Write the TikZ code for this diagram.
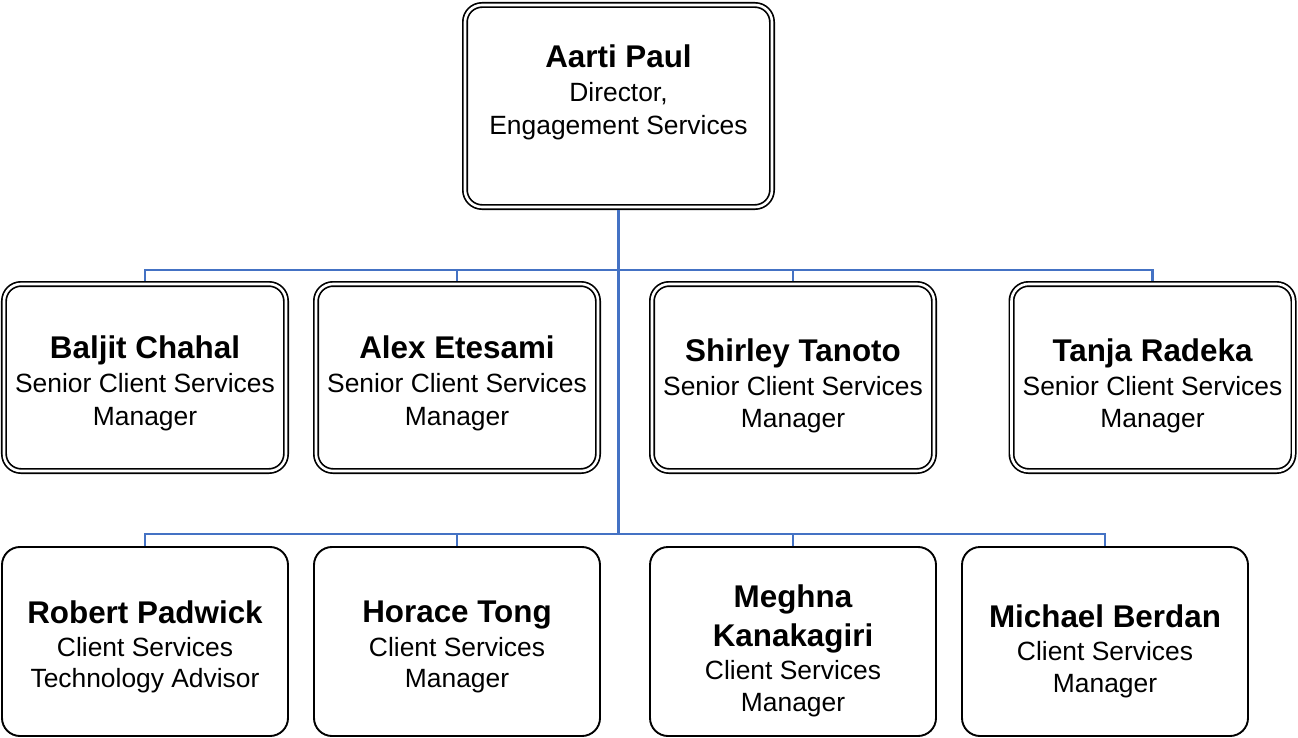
\documentclass[tikz,border=0pt]{standalone}
\usepackage{fontspec}
\setmainfont{Liberation Sans}
\definecolor{lineblue}{HTML}{4472C4}
\begin{document}
\begin{tikzpicture}[x=1bp,y=-1bp,
  dbox/.style={draw=black, line width=1.7bp, double=white, double distance=2.6bp,
    rounded corners=17bp, minimum width=282bp, minimum height=187bp,
    inner sep=0pt, outer sep=3bp, fill=white},
  sbox/.style={draw=black, line width=1.9bp, rounded corners=18bp,
    minimum width=286bp, minimum height=189bp, inner sep=0pt, outer sep=0.95bp, fill=white},
  nm/.style={anchor=base, inner sep=0pt, font=\fontsize{31.5}{36}\selectfont\bfseries},
  tl/.style={anchor=base, inner sep=0pt, font=\fontsize{26.5}{32}\selectfont},
  conn/.style={draw=lineblue, line width=2.2bp}]
\useasboundingbox (0,0) rectangle (1298,738);

% boxes
\node[dbox, minimum width=307bp, minimum height=202bp] (top) at (618.5,106) {};
\node[dbox] (b1) at (145,377.5) {};
\node[dbox] (b2) at (457,377.5) {};
\node[dbox] (b3) at (793,377.5) {};
\node[dbox] (b4) at (1152.5,377.5) {};
\node[sbox] (c1) at (145,641.5) {};
\node[sbox] (c2) at (457,641.5) {};
\node[sbox] (c3) at (793,641.5) {};
\node[sbox] (c4) at (1105,641.5) {};

% connectors
\coordinate (busA) at (618.5,270);
\coordinate (busB) at (618.5,534);
\draw[conn] (top.south) -- (busB);
\draw[conn] (b1.north) |- (busA) -| (b4.north);
\draw[conn] (b2.north) -- (b2.north |- busA);
\draw[conn] (b3.north) -- (b3.north |- busA);
\draw[conn] (c1.north) |- (busB) -| (c4.north);
\draw[conn] (c2.north) -- (c2.north |- busB);
\draw[conn] (c3.north) -- (c3.north |- busB);

% texts
\node[nm] (t0a) at (618.5,68) {Aarti Paul};
\node[tl] (t0b) at (618.5,102) {Director,};
\node[tl] (t0c) at (618.5,134) {Engagement Services};

\node[nm] (t1a) at (145,358.5) {Baljit Chahal};
\node[tl] (t1b) at (145,392.5) {Senior Client Services};
\node[tl] (t1c) at (145,425) {Manager};

\node[nm] (t2a) at (457,358.5) {Alex Etesami};
\node[tl] (t2b) at (457,392.5) {Senior Client Services};
\node[tl] (t2c) at (457,425) {Manager};

\node[nm] (t3a) at (793,361) {Shirley Tanoto};
\node[tl] (t3b) at (793,395) {Senior Client Services};
\node[tl] (t3c) at (793,427) {Manager};

\node[nm] (t4a) at (1152.5,361.5) {Tanja Radeka};
\node[tl] (t4b) at (1152.5,395.5) {Senior Client Services};
\node[tl] (t4c) at (1152.5,427) {Manager};

\node[nm] (u1a) at (145,623) {Robert Padwick};
\node[tl] (u1b) at (145,656.5) {Client Services};
\node[tl] (u1c) at (145,687) {Technology Advisor};

\node[nm] (u2a) at (457,622.5) {Horace Tong};
\node[tl] (u2b) at (457,656.5) {Client Services};
\node[tl] (u2c) at (457,687) {Manager};

\node[nm] (u3a) at (793,607.5) {Meghna};
\node[nm] (u3b) at (793,646) {Kanakagiri};
\node[tl] (u3c) at (793,679.5) {Client Services};
\node[tl] (u3d) at (793,711) {Manager};

\node[nm] (u4a) at (1105,627) {Michael Berdan};
\node[tl] (u4b) at (1105,660) {Client Services};
\node[tl] (u4c) at (1105,692) {Manager};
\end{tikzpicture}
\end{document}
